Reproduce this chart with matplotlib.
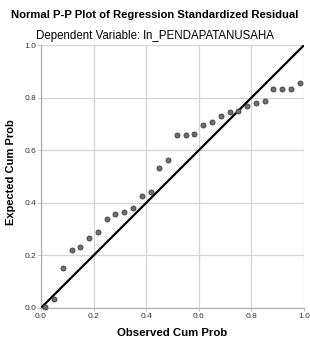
import matplotlib
matplotlib.use("Agg")
import matplotlib.pyplot as plt

plt.rcParams['font.family'] = ['Liberation Sans', 'DejaVu Sans']

observed = [0.017, 0.050, 0.083, 0.117, 0.150, 0.183, 0.217, 0.250, 0.283, 0.317,
            0.350, 0.383, 0.417, 0.450, 0.483, 0.517, 0.550, 0.583, 0.617, 0.650,
            0.683, 0.717, 0.750, 0.783, 0.817, 0.850, 0.883, 0.917, 0.950, 0.983]
expected = [0.005, 0.033, 0.151, 0.222, 0.233, 0.266, 0.288, 0.337, 0.357, 0.365,
            0.379, 0.425, 0.441, 0.533, 0.563, 0.657, 0.659, 0.660, 0.696, 0.708,
            0.729, 0.745, 0.749, 0.769, 0.781, 0.788, 0.832, 0.833, 0.834, 0.856]
ref_line = [0.0, 1.0]
ticks = [0.0, 0.2, 0.4, 0.6, 0.8, 1.0]
tick_labels = ["0.0", "0.2", "0.4", "0.6", "0.8", "1.0"]

fig = plt.figure(figsize=(3.10, 3.44), dpi=100)
ax = fig.add_axes([0.132, 0.1047, 0.849, 0.7643])
ax.set_xlim(0, 1)
ax.set_ylim(0, 1)
ax.set_xticks(ticks)
ax.set_yticks(ticks)
ax.set_xticklabels(tick_labels)
ax.set_yticklabels(tick_labels)
ax.grid(True, color='#d4d4d4', linewidth=0.9)
ax.set_axisbelow(True)
for s in ['top', 'right']:
    ax.spines[s].set_visible(False)
for s in ['left', 'bottom']:
    ax.spines[s].set_color('#b0b0b0')
    ax.spines[s].set_linewidth(0.9)
ax.tick_params(length=2, width=0.6, color='#b0b0b0', labelsize=6,
               labelcolor='#333333', pad=1.5)

ax.plot(ref_line, ref_line, color='black', linewidth=1.6, zorder=3)
ax.plot(observed, expected, linestyle='none', marker='o', markersize=3.6,
        markerfacecolor='#707070', markeredgecolor='#3a3a3a', markeredgewidth=0.6,
        zorder=4, clip_on=False)

ax.set_xlabel("Observed Cum Prob", fontsize=8.2, fontweight='bold', va='center')
ax.set_ylabel("Expected Cum Prob", fontsize=8.0, fontweight='bold', va='center')
ax.xaxis.set_label_coords(0.5, -0.095)
ax.yaxis.set_label_coords(-0.114, 0.517)

fig.text(0.5, 1 - 15/344, "Normal P-P Plot of Regression Standardized Residual",
         ha='center', va='center', fontsize=8.1, fontweight='bold')
fig.text(0.5, 1 - 36/344, "Dependent Variable: ln_PENDAPATANUSAHA",
         ha='center', va='center', fontsize=8.3)

fig.savefig("out.png", dpi=100)
